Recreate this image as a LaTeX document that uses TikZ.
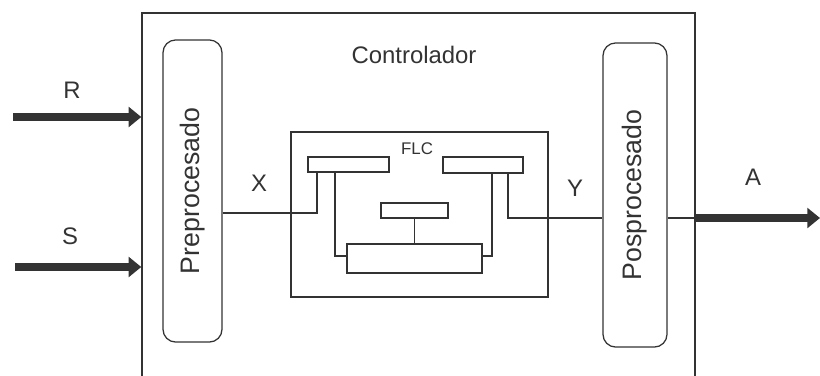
\documentclass[tikz,border=0pt]{standalone}
\usepackage{fontspec}
\setmainfont{Liberation Sans}
\usetikzlibrary{arrows.meta}

\tikzset{
  wire/.style={line width=0.9pt, black!80},
  blk/.style={wire, draw, inner sep=0pt},
  proc/.style={blk, rounded corners=9pt},
  flow/.style={line width=5.5pt, black!80, -{Triangle[length=9pt,width=14pt]}},
  lbl/.style={font=\fontsize{17}{20}\selectfont, text=black!80},
}

\begin{document}
\begin{tikzpicture}[x=0.025cm, y=-0.025cm]
  \useasboundingbox (0,0) rectangle (820,375);
  % frame of the controller (its lower edge lies below the page)
  \node[blk, minimum width=13.825cm, minimum height=9.425cm] (ctrl) at (418.5,201.5) {};
  \node[lbl, anchor=base] (ctrltxt) at (414,63) {Controlador};

  % pre and post processing
  \node[proc, minimum width=1.475cm, minimum height=7.55cm] (pre) at (192.5,191) {};
  \node[lbl, rotate=90, font=\fontsize{19}{21}\selectfont] (pretxt) at (pre) {Preprocesado};
  \node[proc, minimum width=1.6cm, minimum height=7.6cm] (pos) at (635,195) {};
  \node[lbl, rotate=90, font=\fontsize{19}{21}\selectfont] (postxt) at (pos) {Posprocesado};

  % FLC block
  \node[blk, minimum width=6.425cm, minimum height=4.125cm] (flc) at (419.5,214.5) {};
  \node[lbl, font=\fontsize{12}{14}\selectfont] (flctxt) at (417,149) {FLC};
  \node[blk, minimum width=2.025cm, minimum height=0.375cm] (fuz) at (348.5,164.5) {};
  \node[blk, minimum width=2cm, minimum height=0.4cm] (defuz) at (483,165) {};
  \node[blk, minimum width=1.675cm, minimum height=0.375cm] (rules) at (414.5,210.5) {};
  \node[blk, minimum width=3.375cm, minimum height=0.725cm] (inf) at (414.5,258.5) {};

  % wiring inside
  \coordinate (xin) at (317,213);
  \coordinate (lk) at (335,256);
  \coordinate (rk) at (492,256);
  \coordinate (yout) at (508,218);
  \draw[wire] (xin -| pre.east) -- (xin) -- (xin |- fuz.south);
  \draw[wire] (lk |- fuz.south) -- (lk) -- (lk -| inf.west);
  \draw[wire] (rules.south) -- (inf.north);
  \draw[wire] (rk |- defuz.south) -- (rk) -- (rk -| inf.east);
  \draw[wire] (yout |- defuz.south) -- (yout) -- (yout -| pos.west);
  \draw[wire] (yout -| pos.east) -- (yout -| ctrl.east);

  % signals in and out
  \coordinate (rin) at (13,117);
  \coordinate (sin) at (15,267);
  \coordinate (aout) at (820,218);
  \draw[flow] (rin) -- (rin -| ctrl.west);
  \draw[flow] (sin) -- (sin -| ctrl.west);
  \draw[flow] (yout -| ctrl.east) -- (aout);

  \node[lbl] (rlbl) at (72,90) {R};
  \node[lbl] (slbl) at (70,236) {S};
  \node[lbl] (xlbl) at (259,183) {X};
  \node[lbl] (ylbl) at (575,188) {Y};
  \node[lbl] (albl) at (753,177) {A};
\end{tikzpicture}
\end{document}
